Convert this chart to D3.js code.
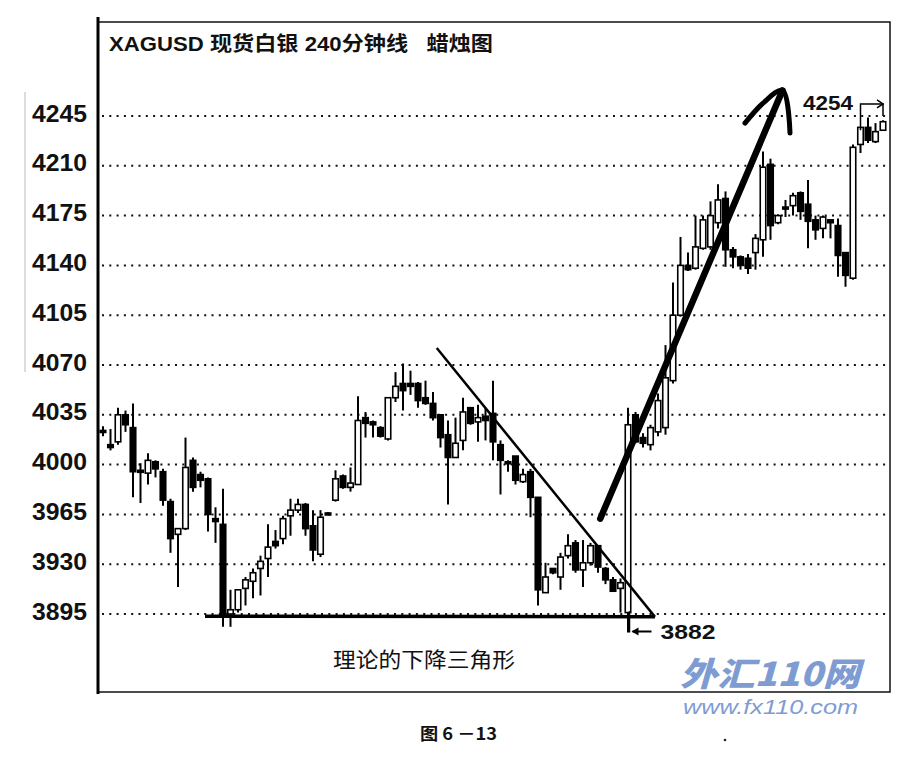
<!DOCTYPE html>
<html><head><meta charset="utf-8">
<script src="https://cdn.jsdelivr.net/npm/d3@7"></script>
<style>
html,body{margin:0;padding:0;background:#fff;}
svg{display:block;}
</style></head>
<body>
<script>
// ---- data ----
const title = "XAGUSD 现货白银 240分钟线\u00a0\u00a0\u00a0蜡烛图";
const yTicks = [3895, 3930, 3965, 4000, 4035, 4070, 4105, 4140, 4175, 4210, 4245];
const opens  = [4024,4014,4016,4035,4026,3996,3994,4002,3995,3974,3951,3955,4003,3993,3990,3962,3958,3895,3898,3913,3918,3927,3934,3946,3948,3964,3968,3972,3957,3937,3966,3975,3992,3984,3986,4033,4030,4026,4018,4047,4057,4057,4057,4047,4043,4035,4021,4005,4017,4040,4030,4034,4036,4014,4002,4006,3988,3995,3977,3910,3927,3921,3936,3945,3926,3931,3943,3927,3919,3913,3896,4035,4019,4014,4023,4026,4059,4105,4140,4138,4152,4153,4170,4187,4151,4146,4145,4149,4158,4211,4170,4181,4182,4191,4183,4172,4166,4172,4168,4149,4131,4225,4237,4227,4235];
const highs  = [4027,4025,4040,4038,4043,4001,4008,4003,3997,3976,3955,4019,4005,3995,3991,3970,3983,3912,3912,3921,3927,3936,3958,3954,3964,3976,3976,3973,3968,3968,3966.5,3996,3993,3998,4048,4037,4031,4027,4047,4065,4071,4066,4058,4059,4051,4035,4031,4033,4047,4040,4042,4040,4059,4017,4003,4006,3997,3997,3977,3931,3927,3938,3951,3947,3947,3945,3943,3928,3921,3920,4040,4037,4022,4028,4050,4084,4128,4160,4149,4175,4175,4185,4197,4192,4153,4147,4148,4162,4220,4215,4176,4186,4191,4192,4200,4175,4175,4172,4173,4149,4225,4237,4244,4240,4242];
const lows   = [4020,4010,4014,4023,3977,3973,3986,3991,3971,3938,3914,3954,3981,3984,3953,3945,3886,3886,3896,3901,3906,3908,3921,3941,3944,3950,3966,3950,3932,3935,3964.5,3974,3983,3981,3986,4019,4019,4019,4017,4044,4038,4049,4040,4042,4031,4012,3972,4005,4010,4028,4016,4017,4003,3979,3995,3986,3987,3963,3901,3910,3923,3912,3934,3924,3914,3929,3924,3916,3911,3896,3882,4015,4012,4010,4020,4021,4057,4104,4136,4137,4151,4151,4166,4139,4138,4137,4134,4137,4146,4158,4169,4174,4175,4172,4152,4158,4159,4159,4132,4125,4130,4219,4226,4226,4235];
const closes = [4024,4012,4035,4028,3995,3995,4003,3997,3975,3948,3955,3998,3984,3989,3965,3960,3894,3898,3912,3919,3924,3932,3942,3943,3962,3968,3972,3955,3940,3963,3965,3990,3984,3987,4031,4029,4028,4020,4047,4055,4052,4055,4045,4043,4033,4019,4005,4015,4037,4029,4033,4031,4016,4003,4001,3989,3993,3977,3912,3921,3924,3935,3943,3926,3931,3943,3928,3919,3911,3917,4028,4016,4015,4026,4045,4061,4105,4140,4137,4153,4172,4175,4186,4151,4146,4140,4138,4159,4209,4168,4175,4180.5,4189,4178,4171,4165,4174,4170,4147,4133,4223,4237,4228,4234,4241];
// annotation anchors (candle index, price)
const supportLine = [[13.6, 3893.5], [73.6, 3893]];
const fallingLine = [[44.5, 4082], [73.6, 3893]];
const riseShaft   = [[66.3, 3962], [90.6, 4263]];
const riseHead    = [[85.6, 4240], [88.0, 4254], [90.6, 4263], [91.6, 4233]];
const lowLabel = "3882", lowValue = 3882;
const highLabel = "4254";
const patternLabel = "理论的下降三角形";
const caption = "图 6 －13";
const wmCn = "外汇110网", wmUrl = "www.fx110.com";

// ---- drawing ----
const W = 923, H = 767;
const svg = d3.select("body").append("svg").attr("width", W).attr("height", H);
const x = d3.scaleLinear().domain([0, opens.length - 1]).range([103, 883]);
const y = d3.scaleLinear().domain([3895, 4245]).range([614, 116]);
const latin = "'Liberation Sans', Arial, 'Noto Sans CJK SC', sans-serif";

// frame
svg.append("rect").attr("x", 98).attr("y", 22).attr("width", 792).attr("height", 670)
  .attr("fill", "none").attr("stroke", "#111").attr("stroke-width", 1.5);
svg.append("line").attr("x1", 98).attr("x2", 98).attr("y1", 17).attr("y2", 694)
  .attr("stroke", "#000").attr("stroke-width", 3);
// faint scan line
svg.append("line").attr("x1", 25).attr("x2", 25).attr("y1", 92).attr("y2", 372)
  .attr("stroke", "#bbb").attr("stroke-width", 1);

// gridlines + y labels via axis
const yAxis = d3.axisLeft(y).tickValues(yTicks).tickFormat(d3.format("d")).tickSize(0).tickPadding(0);
const gAx = svg.append("g").attr("transform", "translate(87,0)").call(yAxis);
gAx.select(".domain").remove();
gAx.selectAll("text").attr("font-family", latin).attr("font-weight", "bold")
  .attr("font-size", 23).attr("fill", "#111").attr("dy", "0.22em")
  .attr("textLength", 55).attr("lengthAdjust", "spacingAndGlyphs");
svg.append("g").selectAll("line").data(yTicks).join("line")
  .attr("x1", 102).attr("x2", 888).attr("y1", d => y(d)).attr("y2", d => y(d))
  .attr("stroke", "#111").attr("stroke-width", 2).attr("stroke-dasharray", "2 5.3");

// title
svg.append("text").attr("x", 109).attr("y", 51).text(title)
  .attr("font-family", latin).attr("font-weight", "bold").attr("font-size", 20)
  .attr("fill", "#111").attr("textLength", 384).attr("lengthAdjust", "spacingAndGlyphs");

// candles
const data = opens.map((o, i) => ({i, o, h: highs[i], l: lows[i], c: closes[i]}));
const g = svg.append("g");
g.selectAll("line.w").data(data).join("line").attr("class", "w")
  .attr("x1", d => x(d.i)).attr("x2", d => x(d.i))
  .attr("y1", d => y(d.h)).attr("y2", d => y(d.l))
  .attr("stroke", "#000").attr("stroke-width", 2);
g.selectAll("rect").data(data).join("rect")
  .attr("x", d => x(d.i) - 2.75).attr("width", 5.5)
  .attr("y", d => y(Math.max(d.o, d.c)))
  .attr("height", d => Math.max(2, Math.abs(y(d.o) - y(d.c))))
  .attr("fill", d => d.c > d.o ? "#fff" : "#000")
  .attr("stroke", "#000").attr("stroke-width", 1.6);

// annotations
const pt = p => [x(p[0]), y(p[1])];
const lineGen = d3.line();
svg.append("path").attr("d", lineGen(supportLine.map(pt))).attr("stroke", "#000")
  .attr("stroke-width", 3.5).attr("fill", "none");
svg.append("path").attr("d", lineGen(fallingLine.map(pt))).attr("stroke", "#000")
  .attr("stroke-width", 2.5).attr("fill", "none");
svg.append("path").attr("d", lineGen(riseShaft.map(pt))).attr("stroke", "#000")
  .attr("stroke-width", 6.5).attr("fill", "none").attr("stroke-linecap", "round");
svg.append("path").attr("d", d3.line().curve(d3.curveCatmullRom)(riseHead.map(pt))).attr("stroke", "#000")
  .attr("stroke-width", 5).attr("fill", "none").attr("stroke-linecap", "round").attr("stroke-linejoin", "round");

// 3882 marker
const xl = x(70.2);
svg.append("line").attr("x1", xl).attr("x2", xl).attr("y1", y(3897)).attr("y2", y(lowValue))
  .attr("stroke", "#000").attr("stroke-width", 1.5);
svg.append("line").attr("x1", xl + 3).attr("x2", xl + 22).attr("y1", y(lowValue) - 1).attr("y2", y(lowValue) - 1)
  .attr("stroke", "#000").attr("stroke-width", 2);
svg.append("path").attr("d", `M${xl+2},${y(lowValue)-1} l7,-4 l0,8 z`).attr("fill", "#000");
svg.append("text").attr("x", xl + 31).attr("y", y(lowValue) + 7).text(lowLabel)
  .attr("font-family", latin).attr("font-weight", "bold").attr("font-size", 21).attr("fill", "#111")
  .attr("textLength", 55).attr("lengthAdjust", "spacingAndGlyphs");

// 4254 marker
const xa = x(101), xb = x(104);
svg.append("path").attr("d", `M${xa},${y(4235)} L${xa},${y(4253.5)} L${xb},${y(4253.5)} L${xb},${y(4245)}`)
  .attr("stroke", "#000").attr("stroke-width", 1.5).attr("fill", "none");
svg.append("path").attr("d", `M${xb-6},${y(4253.5)-4} L${xb},${y(4253.5)} L${xb-6},${y(4253.5)+4}`)
  .attr("stroke", "#000").attr("stroke-width", 1.5).attr("fill", "none");
svg.append("text").attr("x", 803).attr("y", 110).text(highLabel)
  .attr("font-family", latin).attr("font-weight", "bold").attr("font-size", 20).attr("fill", "#111")
  .attr("textLength", 50).attr("lengthAdjust", "spacingAndGlyphs");

// pattern label
svg.append("text").attr("x", 333).attr("y", 667).text(patternLabel)
  .attr("font-family", "'Noto Sans CJK SC', sans-serif").attr("font-size", 21).attr("fill", "#111")
  .attr("textLength", 182).attr("lengthAdjust", "spacingAndGlyphs");

// watermark
svg.append("text").attr("x", 680).attr("y", 686).text(wmCn)
  .attr("font-family", "'Noto Sans CJK SC', sans-serif").attr("font-weight", "900")
  .attr("font-style", "italic").attr("font-size", 33).attr("fill", "#7f9cd2")
  .attr("textLength", 180).attr("lengthAdjust", "spacingAndGlyphs");
svg.append("text").attr("x", 683).attr("y", 714).text(wmUrl)
  .attr("font-family", latin).attr("font-style", "italic").attr("font-size", 21).attr("fill", "#7f9cd2")
  .attr("textLength", 175).attr("lengthAdjust", "spacingAndGlyphs");

// caption
svg.append("text").attr("x", 420).attr("y", 740).text(caption)
  .attr("font-family", "'Noto Sans CJK SC', sans-serif").attr("font-weight", "bold").attr("font-size", 17).attr("fill", "#111")
  .attr("textLength", 77).attr("lengthAdjust", "spacingAndGlyphs");
svg.append("circle").attr("cx", 725).attr("cy", 740).attr("r", 1.3).attr("fill", "#222");
</script>
</body></html>
